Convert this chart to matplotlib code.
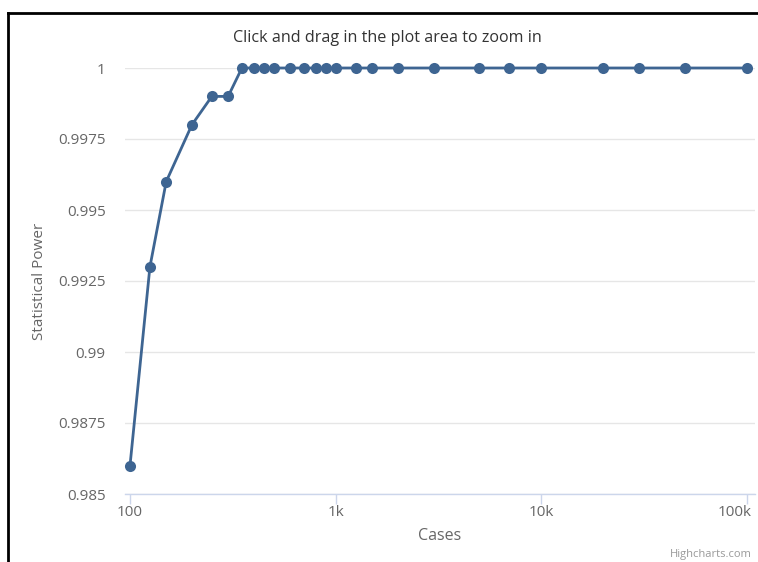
import matplotlib
matplotlib.use("Agg")
import matplotlib.pyplot as plt
import matplotlib.transforms as mtransforms
from matplotlib.lines import Line2D

plt.rcParams['font.family'] = ['Open Sans', 'DejaVu Sans']

cases = [100, 125, 150, 200, 250, 300, 350, 400, 450, 500, 600, 700, 800, 900,
         1000, 1250, 1500, 2000, 3000, 5000, 7000, 10000, 20000, 30000, 50000, 100000]
power = [0.986, 0.993, 0.996, 0.998, 0.999, 0.999, 1, 1, 1, 1, 1, 1, 1, 1,
         1, 1, 1, 1, 1, 1, 1, 1, 1, 1, 1, 1]
y_ticks = [0.985, 0.9875, 0.99, 0.9925, 0.995, 0.9975, 1]
y_labels = ["0.985", "0.9875", "0.99", "0.9925", "0.995", "0.9975", "1"]
x_ticks = [100, 1000, 10000, 100000]
x_labels = ["100", "1k", "10k", "100k"]

W, H = 758, 562
fig = plt.figure(figsize=(W / 100, H / 100), dpi=100)
ax = fig.add_axes([125 / W, (H - 494) / H, (755 - 125) / W, (494 - 68) / H])

color = '#3e6592'
ax.plot(cases, power, color=color, lw=2, marker='o', markersize=8,
        markeredgewidth=0, clip_on=False, zorder=3)

ax.set_xscale('log')
ax.set_xlim(10 ** (2 - 5 / 205.7), 10 ** (5 + 8 / 205.7))
ax.set_ylim(0.985, 1.0)
ax.set_xticks(x_ticks)
ax.set_xticklabels(x_labels)
ax.xaxis.set_minor_locator(matplotlib.ticker.NullLocator())
ax.set_yticks(y_ticks)
ax.set_yticklabels(y_labels)

ax.grid(axis='y', color='#e6e6e6', lw=1)
ax.set_axisbelow(True)
for s in ['top', 'right', 'left']:
    ax.spines[s].set_visible(False)
ax.spines['bottom'].set_color('#ccd6eb')
ax.spines['bottom'].set_linewidth(1)
ax.tick_params(axis='x', colors='#ccd6eb', length=7, width=1, labelcolor='#666666',
               labelsize=11, pad=1)
ax.tick_params(axis='y', length=0, labelcolor='#666666', labelsize=11, pad=14)

# last x label kept inside the chart (justified)
last = ax.get_xticklabels()[-1]
last.set_ha('right')
last.set_transform(last.get_transform() +
                   mtransforms.ScaledTranslation(5 / 100, 0, fig.dpi_scale_trans))

ax.set_xlabel('Cases', color='#666666', fontsize=11.5, labelpad=6)
ax.set_ylabel('Statistical Power', color='#666666', fontsize=11, labelpad=8)

fig.text(387 / W, 1 - 38 / H, 'Click and drag in the plot area to zoom in',
         ha='center', va='center', color='#333333', fontsize=11.6)
fig.text(752 / W, 1 - 555 / H, 'Highcharts.com', ha='right', va='center',
         color='#999999', fontsize=8)

# screenshot frame (top and left)
fig.add_artist(Line2D([8 / W, 1], [1 - 13 / H, 1 - 13 / H], color='black', lw=2,
                      transform=fig.transFigure))
fig.add_artist(Line2D([8 / W, 8 / W], [0, 1 - 13 / H], color='black', lw=2,
                      transform=fig.transFigure))

fig.savefig('out.png', dpi=100)
